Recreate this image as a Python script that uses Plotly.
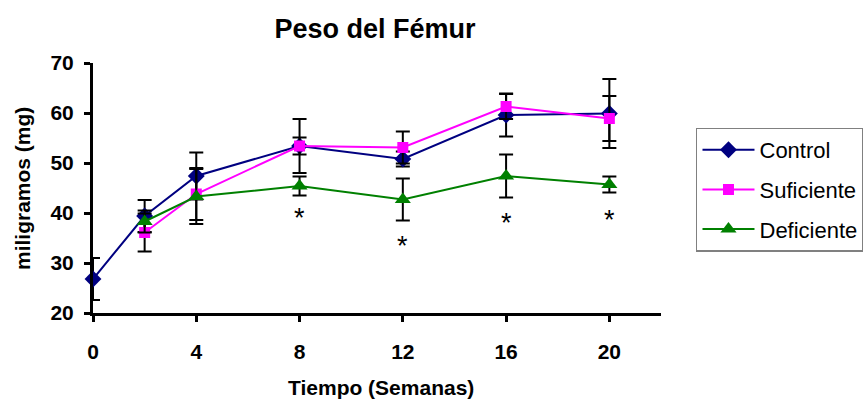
import plotly.graph_objects as go

# ---- data ----
semanas_control = [0, 2, 4, 8, 12, 16, 20]
control = [26.8, 39.4, 47.4, 53.4, 50.8, 59.6, 59.9]
control_err = [4.2, 3.2, 4.7, 5.4, 1.5, 4.3, 6.9]

semanas_grupos = [2, 4, 8, 12, 16, 20]
suficiente = [36.1, 43.8, 53.4, 53.1, 61.3, 58.9]
suficiente_err = [3.8, 5.2, 1.7, 3.2, 2.5, 4.5]
deficiente = [38.3, 43.3, 45.4, 42.7, 47.4, 45.7]
deficiente_err = [2.2, 5.5, 1.9, 4.2, 4.3, 1.6]

asterisco_semanas = [8, 12, 16, 20]
asterisco_y = [40.3, 34.6, 39.3, 39.8]

x_ticks = [0, 4, 8, 12, 16, 20]
y_ticks = [20, 30, 40, 50, 60, 70]

FONT = "Liberation Sans, Arial, sans-serif"

def err(vals):
    return dict(type="data", array=vals, visible=True, color="black",
                thickness=2, width=7)

fig = go.Figure()
fig.add_trace(go.Scatter(
    x=semanas_control, y=control, name="Control", mode="lines+markers",
    legendgroup="c",
    line=dict(color="#000080", width=2),
    marker=dict(symbol="diamond", size=13, color="#000080"),
    error_y=err(control_err), cliponaxis=False))
fig.add_trace(go.Scatter(
    x=semanas_grupos, y=suficiente, name="Suficiente", mode="lines+markers",
    legendgroup="s",
    line=dict(color="#FF00FF", width=2),
    marker=dict(symbol="square", size=11, color="#FF00FF"),
    error_y=err(suficiente_err), cliponaxis=False))
fig.add_trace(go.Scatter(
    x=semanas_grupos, y=deficiente, name="Deficiente", mode="lines+markers",
    legendgroup="d",
    line=dict(color="#008000", width=2),
    marker=dict(symbol="triangle-up", size=14, color="#008000"),
    error_y=err(deficiente_err), cliponaxis=False))

for xs, ys in zip(asterisco_semanas, asterisco_y):
    fig.add_annotation(x=xs, y=ys, text="*", showarrow=False, yshift=-6,
                       xanchor="center", yanchor="middle",
                       font=dict(family=FONT, size=27, color="black"))

fig.add_annotation(xref="paper", yref="paper", x=0.507, y=-0.296,
                   xanchor="center", yanchor="middle",
                   text="<b>Tiempo (Semanas)</b>", showarrow=False,
                   font=dict(family=FONT, size=21, color="black"))
fig.add_annotation(xref="paper", yref="paper", x=-0.125, y=0.496,
                   xanchor="center", yanchor="middle",
                   text="<b>miligramos (mg)</b>", showarrow=False, textangle=-90,
                   font=dict(family=FONT, size=21, color="black"))

fig.update_layout(
    width=863, height=400,
    margin=dict(l=93, r=202, t=63, b=87, autoexpand=False),
    paper_bgcolor="white", plot_bgcolor="white",
    title=dict(text="<b>Peso del Fémur</b>", x=375/863, xanchor="center",
               y=1 - 28.5/400, yanchor="middle", xref="container", yref="container",
               font=dict(family=FONT, size=27, color="black")),
    font=dict(family=FONT, color="black"),
    showlegend=True,
    legend=dict(x=1.0616, y=0.742, xanchor="left", yanchor="top",
                bordercolor="#808080", borderwidth=1.5, bgcolor="white",
                font=dict(family=FONT, size=22, color="black"),
                itemwidth=52, tracegroupgap=8),
    xaxis=dict(range=[0, 22], tickvals=x_ticks, ticktext=[str(v) for v in x_ticks],
               showgrid=False, zeroline=False, showline=True, linecolor="black",
               linewidth=3, ticks="outside", ticklen=6, tickwidth=3, tickcolor="black",
               ticklabelstandoff=12, automargin=False,
               tickfont=dict(family=FONT, size=21, color="black", weight="bold")),
    yaxis=dict(range=[20, 70], tickvals=y_ticks,
               showgrid=False, zeroline=False, showline=True, linecolor="black",
               linewidth=3, ticks="outside", ticklen=6, tickwidth=3, tickcolor="black",
               ticklabelstandoff=6, automargin=False,
               tickfont=dict(family=FONT, size=21, color="black", weight="bold")),
)

fig.write_html("out.html", config={"displayModeBar": False},
               post_script="document.body.style.margin='0px';document.body.style.overflow='hidden';")
